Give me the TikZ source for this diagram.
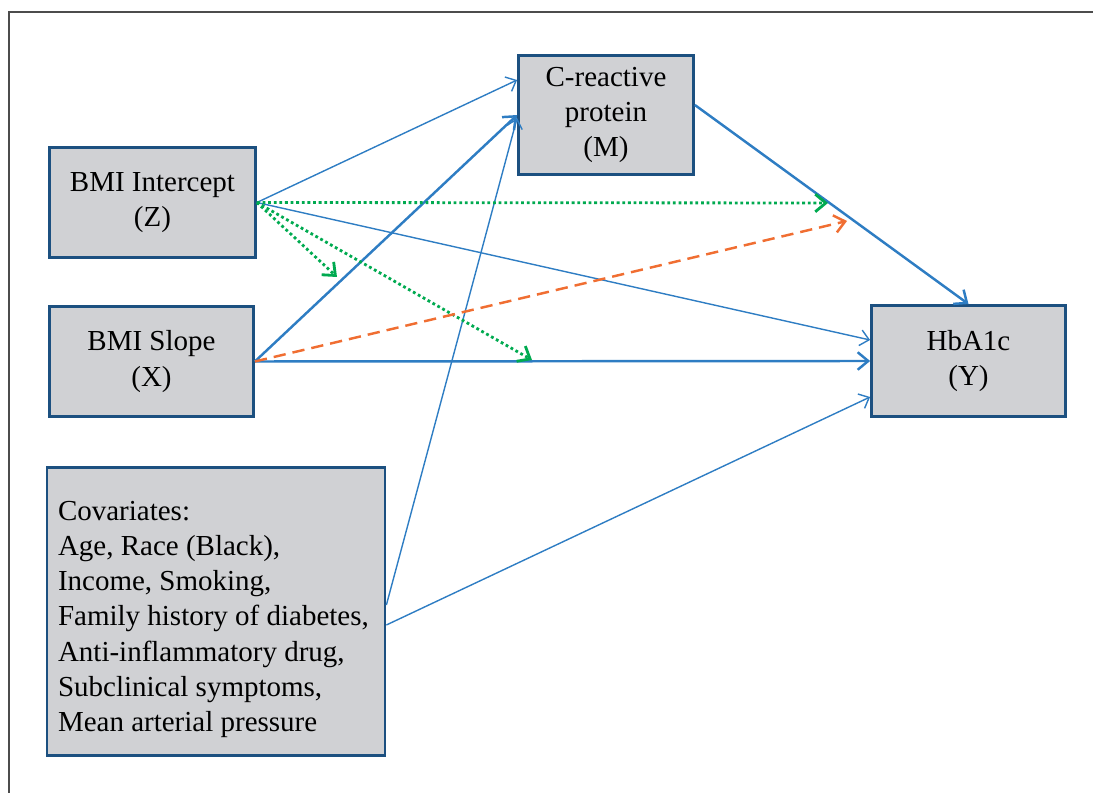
\documentclass[tikz,border=0pt]{standalone}
\usepackage{fontspec}
\setmainfont{Liberation Serif}
\usetikzlibrary{arrows.meta}
\definecolor{boxgray}{RGB}{208,209,212}
\definecolor{boxblue}{RGB}{28,80,128}
\definecolor{pathblue}{RGB}{46,125,195}
\definecolor{modgreen}{RGB}{0,170,80}
\definecolor{modorange}{RGB}{240,110,50}
\tikzset{
  varbox/.style={draw=boxblue, fill=boxgray, line width=1.6pt, inner sep=0pt, align=center, font=\fontsize{16.5}{20}\selectfont, execute at begin node=\rule{0pt}{20pt}},
  thinpath/.style={pathblue, line width=0.8pt, -{Straight Barb[length=5pt,width=9pt]}},
  thickpath/.style={pathblue, line width=1.4pt, -{Straight Barb[length=6pt,width=10pt]}},
  greenmod/.style={modgreen, line width=1.6pt, dash pattern=on 1.6pt off 1.6pt, -{Straight Barb[length=6pt,width=10pt]}},
  orangemod/.style={modorange, line width=1.4pt, dash pattern=on 7pt off 4pt, -{Straight Barb[length=6pt,width=10pt]}}
}
\begin{document}
\begin{tikzpicture}[x=0.02cm,y=-0.02cm]
				\useasboundingbox (0,0) rectangle (1093,793);
				\draw[gray!60!black, line width=1pt] (9,793) -- (9,12) -- (1093,12);
				\node[varbox, minimum width=4.12cm, minimum height=2.2cm] (Z) at (152.5,202.5) {BMI Intercept\\(Z)};
				\node[varbox, minimum width=4.08cm, minimum height=2.2cm] (X) at (151.5,361.5) {BMI Slope\\(X)};
				\node[varbox, minimum width=3.5cm, minimum height=2.38cm] (M) at (606,115) {C-reactive\\protein\\(M)};
				\node[varbox, minimum width=3.88cm, minimum height=2.22cm] (Y) at (968.5,361) {HbA1c\\(Y)};
				\node[varbox, align=flush left, text width=6.32cm, inner xsep=0.22cm, minimum height=5.76cm] (C) at (216,611.5) {Covariates:\\Age, Race (Black),\\Income, Smoking,\\Family history of diabetes,\\Anti-inflammatory drug,\\Subclinical symptoms,\\Mean arterial pressure};
				\coordinate (m1) at (337,277);
				\coordinate (m2) at (532,360);
				\coordinate (m3) at (828,203);
				\coordinate (m4) at (847,221);
				\draw[thinpath] (Z.east) -- ([yshift=0.7cm]M.west);
				\draw[thickpath] (X.east) -- (M.west);
				\draw[thinpath] ([yshift=0.13cm]C.east) -- ([yshift=-0.06cm]M.west);
				\draw[thickpath] ([yshift=0.2cm]M.east) -- (Y.north);
				\draw[thinpath] (Z.east) -- ([yshift=0.42cm]Y.west);
				\draw[thickpath] (X.east) -- (Y.west);
				\draw[thinpath] ([yshift=-0.27cm]C.east) -- ([yshift=-0.72cm]Y.west);
				\draw[greenmod] (Z.east) -- (m1);
				\draw[greenmod] (Z.east) -- (m2);
				\draw[greenmod] (Z.east) -- (m3);
				\draw[orangemod] (X.east) -- (m4);
			\end{tikzpicture}
\end{document}
